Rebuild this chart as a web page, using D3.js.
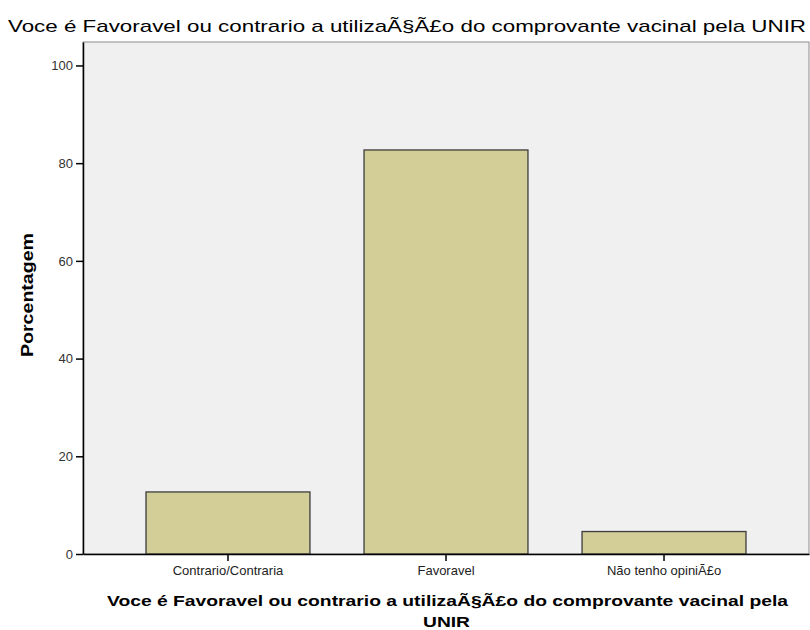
<!DOCTYPE html>
<html><head><meta charset="utf-8">
<script src="https://cdn.jsdelivr.net/npm/d3@7"></script>
<style>body{margin:0;background:#fff;} text{font-family:"Liberation Sans",Arial,sans-serif;}</style>
</head><body>
<svg id="c" width="810" height="630"></svg>
<script>
const categories = ["Contrario/Contraria", "Favoravel", "Não tenho opiniÃ£o"];
const values = [12.7, 82.7, 4.6];
const yTicks = [0, 20, 40, 60, 80, 100];
const title = "Voce é Favoravel ou contrario a utilizaÃ§Ã£o do comprovante vacinal pela UNIR";
const xTitle = ["Voce é Favoravel ou contrario a utilizaÃ§Ã£o do comprovante vacinal pela", "UNIR"];
const yTitle = "Porcentagem";

const svg = d3.select("#c");
const L = 83, R = 809, T = 42, B = 554;
const x = d3.scaleBand().domain(categories).range([L, R]).paddingInner(0.248).paddingOuter(0.289);
const y = d3.scaleLinear().domain([0, 104.8]).range([B, T]);

svg.append("rect").attr("x", L).attr("y", T).attr("width", R - L).attr("height", B - T)
  .attr("fill", "#f0f0f0").attr("stroke", "#8c8c8c").attr("stroke-width", 1);

svg.selectAll("rect.bar").data(values).join("rect").attr("class", "bar")
  .attr("x", (d, i) => x(categories[i]))
  .attr("y", d => y(d))
  .attr("width", x.bandwidth())
  .attr("height", d => B - y(d))
  .attr("fill", "#d3ce97").attr("stroke", "#3c3c3c").attr("stroke-width", 1.3);

const ya = svg.append("g").attr("transform", `translate(${L},0)`)
  .call(d3.axisLeft(y).tickValues(yTicks).tickSize(7).tickSizeOuter(0).tickPadding(3).tickFormat(d3.format("d")));
ya.select(".domain").attr("stroke", "#000").attr("stroke-width", 1.5);
ya.selectAll(".tick line").attr("stroke", "#000").attr("stroke-width", 1.5);
ya.selectAll(".tick text").attr("fill", "#333").style("font-size", "13px").style("font-family", "'Liberation Sans',Arial,sans-serif");

const xa = svg.append("g").attr("transform", `translate(0,${B})`)
  .call(d3.axisBottom(x).tickSize(7).tickSizeOuter(0).tickPadding(5));
xa.select(".domain").attr("stroke", "#000").attr("stroke-width", 1.5);
xa.selectAll(".tick line").attr("stroke", "#000").attr("stroke-width", 1.5);
xa.selectAll(".tick text").attr("fill", "#222").style("font-size", "13px").style("font-family", "'Liberation Sans',Arial,sans-serif");

svg.append("text").attr("x", 8).attr("y", 32).attr("textLength", 798).attr("lengthAdjust", "spacingAndGlyphs")
  .style("font-size", "17px").attr("fill", "#000").text(title);

svg.append("text").attr("x", 107).attr("y", 606).attr("textLength", 681).attr("lengthAdjust", "spacingAndGlyphs")
  .style("font-size", "15px").style("font-weight", "bold").text(xTitle[0]);
svg.append("text").attr("x", 423).attr("y", 627).attr("textLength", 47).attr("lengthAdjust", "spacingAndGlyphs")
  .style("font-size", "15px").style("font-weight", "bold").text(xTitle[1]);

svg.append("text").attr("transform", "translate(33,357) rotate(-90)")
  .attr("textLength", 124).attr("lengthAdjust", "spacingAndGlyphs")
  .style("font-size", "16px").style("font-weight", "bold").text(yTitle);
</script>
</body></html>
